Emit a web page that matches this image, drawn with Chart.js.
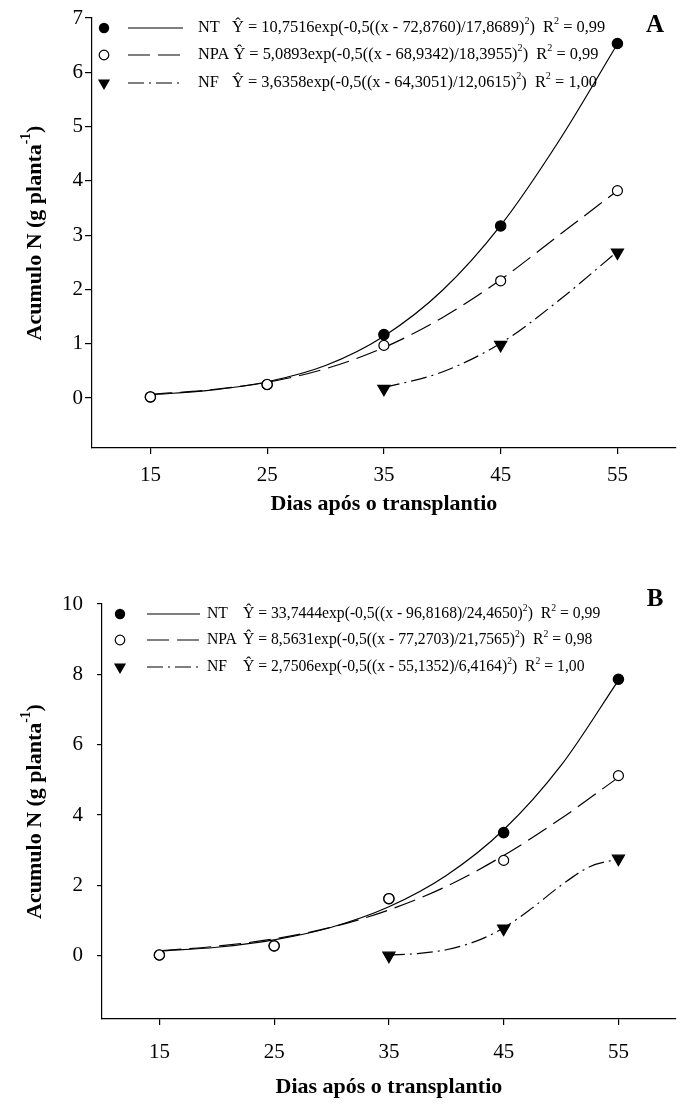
<!DOCTYPE html>
<html>
<head>
<meta charset="utf-8">
<script src="https://cdn.jsdelivr.net/npm/chart.js@4"></script>
<style>
    html, body { margin: 0; padding: 0; background: #fff; }
    .panel { position: absolute; left: 0; width: 684px; }
    #panel-a { top: 0; height: 540px; }
    #panel-b { top: 560px; height: 547px; }
</style>
</head>
<body>
<div class="panel" id="panel-a"><canvas></canvas></div>
<div class="panel" id="panel-b"><canvas></canvas></div>
<script>

// observed days
const days = [ 15, 25, 35, 45, 55 ];
const days_nf = [ 35, 45, 55 ];

// panel A observed values (g planta-1)
const a_nt = [ 0.02, 0.25, 1.17, 3.17, 6.53 ];
const a_npa = [ 0.02, 0.25, 0.97, 2.16, 3.82 ];
const a_nf = [ 0.17, 0.98, 2.68 ];

// panel B observed values
const b_nt = [ 0.02, 0.28, 1.62, 3.50, 7.86 ];
const b_npa = [ 0.02, 0.28, 1.62, 2.71, 5.12 ];
const b_nf = [ 0.0, 0.77, 2.76 ];

// fitted curves
const fit_days = [ 15, 20, 25, 30, 35, 40, 45, 50, 55 ];
const fit_days_a_nf = [ 35, 40, 45, 50, 55 ];
const fit_days_b_nf = [ 35, 37.5, 40, 42.5, 45, 47.5, 50, 52.5, 55 ];

const a_nt_fit = [ 0.06, 0.14, 0.30, 0.60, 1.14, 1.98, 3.18, 4.74, 6.52 ];
const a_npa_fit = [ 0.07, 0.15, 0.29, 0.54, 0.93, 1.48, 2.18, 3.00, 3.82 ];
const a_nf_fit = [ 0.19, 0.48, 1.01, 1.80, 2.70 ];

const b_nt_fit = [ 0.13, 0.24, 0.45, 0.81, 1.39, 2.28, 3.58, 5.41, 7.83 ];
const b_npa_fit = [ 0.14, 0.27, 0.48, 0.81, 1.30, 1.97, 2.85, 3.90, 5.07 ];
const b_nf_fit = [ 0.02, 0.06, 0.17, 0.40, 0.79, 1.36, 2.00, 2.53, 2.75 ];

// tick labels
const x_ticks = [ 15, 25, 35, 45, 55 ];
const a_y_ticks = [ 0, 1, 2, 3, 4, 5, 6, 7 ];
const b_y_ticks = [ 0, 2, 4, 6, 8, 10 ];

// legend texts
const a_legend = [
    { name: 'NT', eq: '10,7516exp(-0,5((x - 72,8760)/17,8689)', r2: '0,99' },
    { name: 'NPA', eq: '5,0893exp(-0,5((x - 68,9342)/18,3955)', r2: '0,99' },
    { name: 'NF', eq: '3,6358exp(-0,5((x - 64,3051)/12,0615)', r2: '1,00' }
];
const b_legend = [
    { name: 'NT', eq: '33,7444exp(-0,5((x - 96,8168)/24,4650)', r2: '0,99' },
    { name: 'NPA', eq: '8,5631exp(-0,5((x - 77,2703)/21,7565)', r2: '0,98' },
    { name: 'NF', eq: '2,7506exp(-0,5((x - 55,1352)/6,4164)', r2: '1,00' }
];

const serif = '"Liberation Serif", "Times New Roman", serif';
const dash_npa = [ 22, 8 ];
const dash_nf = [ 16, 5, 2, 5 ];

/**
 * zip x and y arrays into points
 */
function pts( xs, ys ) {

    return xs.map( ( x, i ) => ( { x: x, y: ys[ i ] } ) );

};

/**
 * draw text with superscript parts
 * @param {Array} parts [ text, isSup ]
 * @returns total width
 */
function rich_text( ctx, parts, x, y, size, weight, measure_only ) {

    let w = 0;

    parts.forEach( ( p ) => {

        let s = p[1] ? size * 0.62 : size;
        ctx.font = weight + ' ' + s + 'px ' + serif;

        if( ! measure_only ) {
            ctx.fillText( p[0], x + w, p[1] ? y - size * 0.38 : y );
        }

        w += ctx.measureText( p[0] ).width;

    } );

    return w;

};

/**
 * legend marker
 */
function legend_marker( ctx, type, x, y ) {

    ctx.beginPath();
    ctx.lineWidth = 1.2;

    if( type == 'filled' ) {
        ctx.arc( x, y, 5.2, 0, Math.PI * 2 );
        ctx.fill();
    } else if( type == 'open' ) {
        ctx.arc( x, y, 4.8, 0, Math.PI * 2 );
        ctx.stroke();
    } else {
        let r = 7;
        ctx.moveTo( x, y + r );
        ctx.lineTo( x - r * 0.866, y - r * 0.5 );
        ctx.lineTo( x + r * 0.866, y - r * 0.5 );
        ctx.closePath();
        ctx.fill();
    }

};

const panel_text = {
    id: 'panel_text',
    afterDraw( chart, args, o ) {

        let ctx = chart.ctx,
            area = chart.chartArea,
            markers = [ 'filled', 'open', 'tri' ],
            dashes = [ [], dash_npa, dash_nf ];

        ctx.save();
        ctx.fillStyle = '#000';
        ctx.strokeStyle = '#000';
        ctx.textBaseline = 'middle';
        ctx.textAlign = 'left';

        // legend
        o.legend.forEach( ( row, i ) => {

            let y = o.rows[ i ];

            legend_marker( ctx, markers[ i ], o.marker_x, y );

            ctx.beginPath();
            ctx.lineWidth = 1.2;
            ctx.setLineDash( dashes[ i ] );
            ctx.moveTo( o.line_x[0], y );
            ctx.lineTo( o.line_x[1], y );
            ctx.stroke();
            ctx.setLineDash( [] );

            ctx.font = o.size + 'px ' + serif;
            ctx.fillText( row.name, o.name_x, y );

            let ex = Math.max( o.eq_x, o.name_x + ctx.measureText( row.name + ' ' ).width );

            rich_text( ctx, [
                [ '\u0176 = ' + row.eq, 0 ],
                [ '2', 1 ],
                [ ')  R', 0 ],
                [ '2', 1 ],
                [ ' = ' + row.r2, 0 ]
            ], ex, y, o.size, 'normal' );

        } );

        // panel letter
        ctx.textAlign = 'center';
        ctx.font = 'bold 25px ' + serif;
        ctx.fillText( o.letter, o.letter_pos[0], o.letter_pos[1] );

        // x title
        ctx.font = 'bold 22px ' + serif;
        ctx.fillText( 'Dias após o transplantio', ( area.left + area.right ) / 2, o.x_title_y );

        // y title
        let parts = [ [ 'Acumulo N (g planta', 0 ], [ '-1', 1 ], [ ')', 0 ] ];
        ctx.textAlign = 'left';
        ctx.translate( o.y_title_x, ( area.top + area.bottom ) / 2 );
        ctx.rotate( -Math.PI / 2 );
        let w = rich_text( ctx, parts, 0, 0, 22, 'bold', true );
        rich_text( ctx, parts, -w / 2, 0, 22, 'bold' );

        ctx.restore();

    }
};

/**
 * create one panel
 */
function chart_panel( container, cfg ) {

    let line = {
        borderColor: '#000',
        borderWidth: 1.2,
        pointRadius: 0,
        fill: false,
        cubicInterpolationMode: 'monotone',
        order: 10
    };

    let mark = {
        showLine: false,
        borderColor: '#000',
        borderWidth: 1.2,
        pointBorderColor: '#000'
    };

    new Chart( container.querySelector( 'canvas' ).getContext( '2d' ), {
        type: 'line',
        data: {
            datasets: [
                Object.assign( {}, line, { data: pts( fit_days, cfg.nt_fit ) } ),
                Object.assign( {}, line, { data: pts( fit_days, cfg.npa_fit ), borderDash: dash_npa } ),
                Object.assign( {}, line, { data: pts( cfg.nf_fit_days, cfg.nf_fit ), borderDash: dash_nf } ),
                Object.assign( {}, mark, {
                    data: pts( days, cfg.nt ),
                    pointStyle: 'circle', pointRadius: 5.2,
                    pointBackgroundColor: '#000', order: 3
                } ),
                Object.assign( {}, mark, {
                    data: pts( days, cfg.npa ),
                    pointStyle: 'circle', pointRadius: 5,
                    pointBackgroundColor: '#fff', order: 2
                } ),
                Object.assign( {}, mark, {
                    data: pts( days_nf, cfg.nf ),
                    pointStyle: 'triangle', pointRadius: 7, pointRotation: 180,
                    pointBackgroundColor: '#000', order: 1
                } )
            ]
        },
        options: {
            responsive: true,
            maintainAspectRatio: false,
            animation: false,
            layout: {
                padding: { top: cfg.pad_top, right: 6, left: 0, bottom: 0 }
            },
            plugins: {
                legend: { display: false },
                tooltip: { enabled: false },
                panel_text: cfg.text
            },
            scales: {
                x: {
                    type: 'linear',
                    min: 10,
                    max: 60,
                    afterBuildTicks: ( s ) => { s.ticks = x_ticks.map( v => ( { value: v } ) ); },
                    afterFit: ( s ) => { s.height = cfg.x_height; },
                    border: { display: true, color: '#000', width: 1.2 },
                    grid: { drawOnChartArea: false, drawTicks: true, tickLength: 6, color: '#000', lineWidth: 1.2 },
                    ticks: {
                        color: '#000',
                        padding: cfg.x_pad,
                        maxRotation: 0,
                        autoSkip: false,
                        font: { family: serif, size: 21 },
                        callback: ( v ) => String( v )
                    }
                },
                y: {
                    type: 'linear',
                    min: cfg.y_min,
                    max: cfg.y_max,
                    afterBuildTicks: ( s ) => { s.ticks = cfg.y_ticks.map( v => ( { value: v } ) ); },
                    afterFit: ( s ) => { s.width = cfg.y_width; },
                    border: { display: true, color: '#000', width: 1.2 },
                    grid: { drawOnChartArea: false, drawTicks: true, tickLength: cfg.y_tick_len, color: '#000', lineWidth: 1.2 },
                    ticks: {
                        color: '#000',
                        padding: cfg.y_pad,
                        autoSkip: false,
                        font: { family: serif, size: 21 },
                        callback: ( v ) => String( v )
                    }
                }
            }
        },
        plugins: [ panel_text ]
    } );

};

chart_panel( document.getElementById( 'panel-a' ), {
    nt: a_nt, npa: a_npa, nf: a_nf,
    nt_fit: a_nt_fit, npa_fit: a_npa_fit, nf_fit: a_nf_fit, nf_fit_days: fit_days_a_nf,
    y_min: -0.92, y_max: 7, y_ticks: a_y_ticks,
    y_width: 92, y_tick_len: 7, y_pad: 2,
    pad_top: 18, x_height: 92, x_pad: 9,
    text: {
        legend: a_legend, size: 16.4,
        rows: [ 28, 55, 83 ], marker_x: 104, line_x: [ 128, 183 ], name_x: 198, eq_x: 232,
        letter: 'A', letter_pos: [ 655, 26 ],
        x_title_y: 504, y_title_x: 35
    }
} );

chart_panel( document.getElementById( 'panel-b' ), {
    nt: b_nt, npa: b_npa, nf: b_nf,
    nt_fit: b_nt_fit, npa_fit: b_npa_fit, nf_fit: b_nf_fit, nf_fit_days: fit_days_b_nf,
    y_min: -1.8, y_max: 10, y_ticks: b_y_ticks,
    y_width: 102, y_tick_len: 5, y_pad: 14,
    pad_top: 44, x_height: 88, x_pad: 15,
    text: {
        legend: b_legend, size: 15.7,
        rows: [ 54, 80, 107 ], marker_x: 120, line_x: [ 147, 200 ], name_x: 207, eq_x: 243,
        letter: 'B', letter_pos: [ 655, 40 ],
        x_title_y: 527, y_title_x: 35
    }
} );

</script>
</body>
</html>
